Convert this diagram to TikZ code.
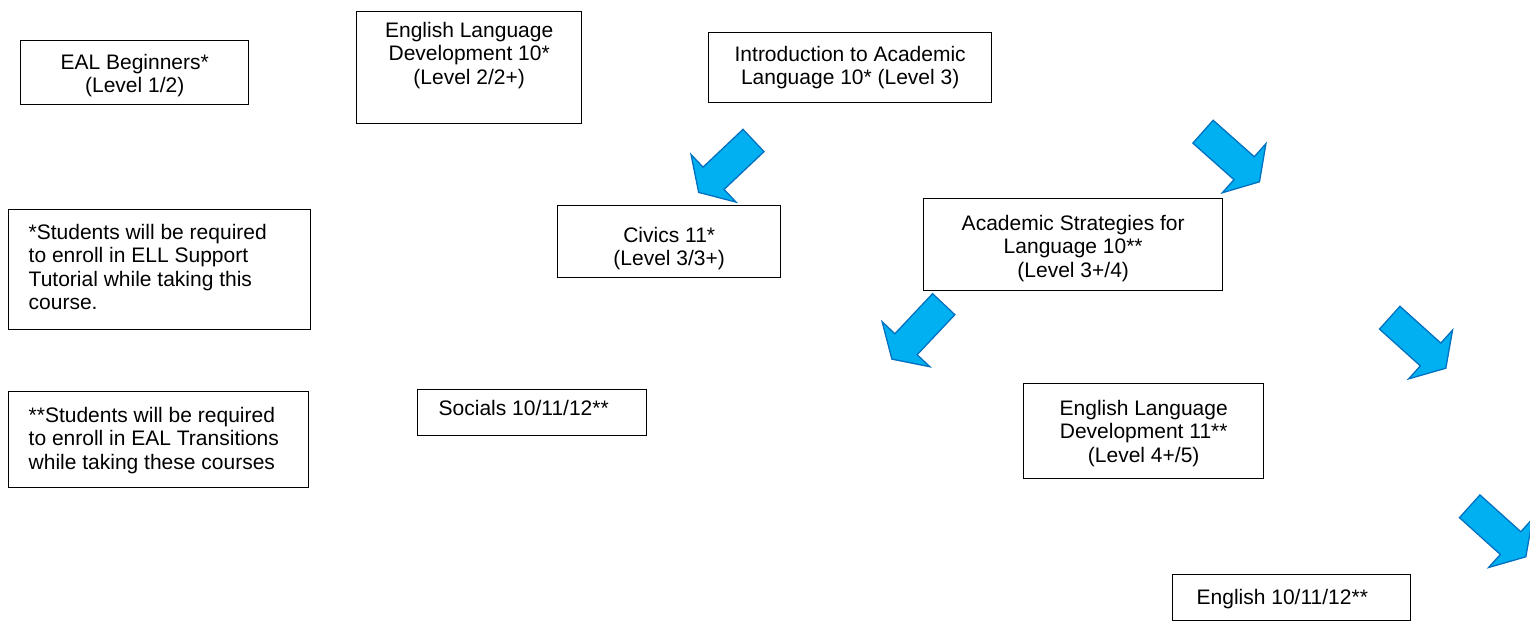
\documentclass[tikz,border=0pt]{standalone}
\usepackage{fontspec}
\setmainfont{Liberation Sans}
\definecolor{arrowfill}{HTML}{00B0F0}
\definecolor{arrowline}{HTML}{0070C0}
% \tb{width}{height}{top pad}{content}
\newcommand{\tb}[4]{\parbox[t][#2pt][t]{#1pt}{\vspace*{#3pt}#4}}
\newcommand{\lefttext}[1]{\raggedright\leftskip=#1pt\relax}
\begin{document}
\begin{tikzpicture}[x=1pt,y=1pt,
  every node/.style={font=\fontsize{21}{23.5}\selectfont},
  box/.style={draw, line width=1.4pt, anchor=north west, inner sep=0pt},
  blockarrow/.style={fill=arrowfill, draw=arrowline, line width=1.3pt, line join=miter}]
\useasboundingbox (0,0) rectangle (1530,-621);
\clip (0,0) rectangle (1530,-621);

% boxes
\node[box] (eal) at (20,-40) {\tb{228}{64}{12}{\centering\strut EAL Beginners*\\(Level 1/2)}};
\node[box] (eld10) at (356,-11) {\tb{225}{112}{9}{\centering\strut English Language\\Development 10*\\(Level 2/2+)}};
\node[box] (intro) at (708,-32) {\tb{283}{70}{12}{\centering\strut Introduction to Academic\\Language 10* (Level 3)}};
\node[box] (civics) at (557,-205) {\tb{223}{72}{20}{\centering\strut Civics 11*\\(Level 3/3+)}};
\node[box] (acad) at (923,-198) {\tb{299}{92}{15}{\centering\strut Academic Strategies for\\Language 10**\\(Level 3+/4)}};
\node[box] (note1) at (8,-209) {\tb{302}{120}{13}{\lefttext{20}\strut *Students will be required\\to enroll in ELL Support\\Tutorial while taking this\\course.}};
\node[box] (note2) at (8,-391) {\tb{300}{96}{14}{\lefttext{20}\strut **Students will be required\\to enroll in EAL Transitions\\while taking these courses}};
\node[box] (socials) at (417,-389) {\tb{229}{46}{9}{\lefttext{21}\strut Socials 10/11/12**}};
\node[box] (eld11) at (1023,-383) {\tb{240}{95}{15}{\centering\strut English Language\\Development 11**\\(Level 4+/5)}};
\node[box] (english) at (1172,-574) {\tb{238}{46}{13}{\lefttext{24}\strut English 10/11/12**}};

% block arrows: tail centre (x, y down), angle
\foreach \x/\y/\a in {753.5/140.5/223.4, 1203/131.7/-41.6, 943.7/304.2/226.7, 1389.7/317.7/-42, 1469.7/506.3/-42}{
  \path[blockarrow, shift={(\x,-\y)}, rotate=\a]
    (0,15.3) -- (55,15.3) -- (55,32.8) -- (75.5,0) -- (55,-32.8) -- (55,-15.3) -- (0,-15.3) -- cycle;
}
\end{tikzpicture}
\end{document}
